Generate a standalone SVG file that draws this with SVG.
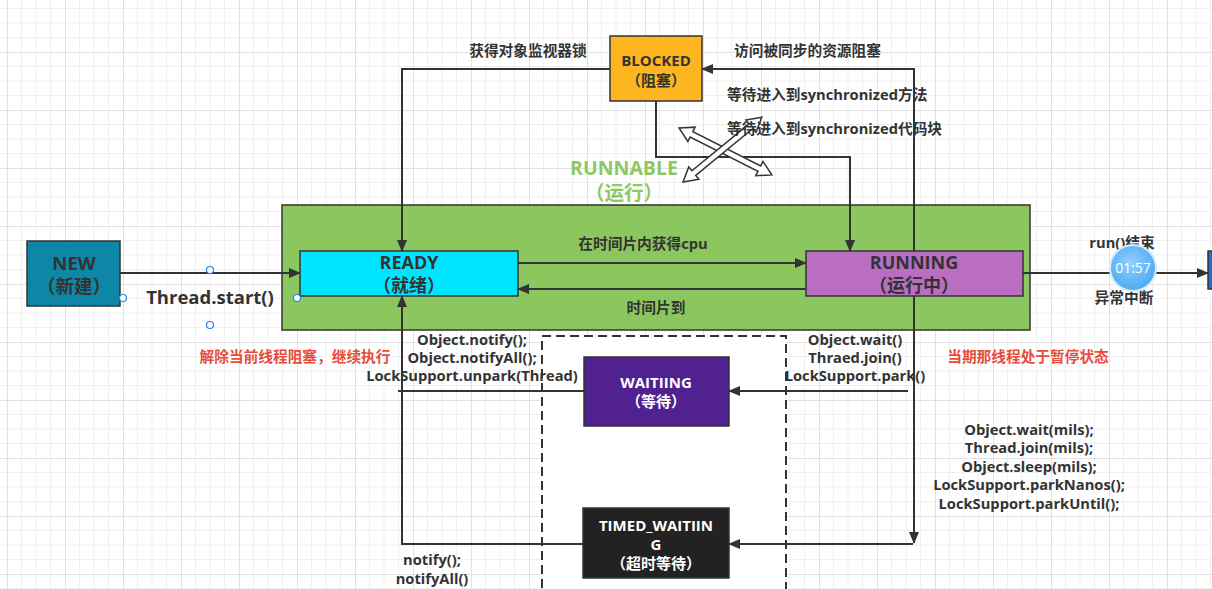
<svg xmlns="http://www.w3.org/2000/svg" width="1212" height="589" viewBox="0 0 1212 589">
<style>
text{font-family:"Open Sans","Noto Sans CJK SC",sans-serif;font-weight:bold;fill:#333;text-anchor:middle}
.t13{font-size:14.7px}
.n13{font-size:15px}
.t16{font-size:18.5px}
.nl{font-size:18px}
.w{fill:#fff}
.red{fill:#e74c3c;font-size:14.7px}
.edge{fill:none;stroke:#333;stroke-width:2}
.node{stroke:#333;stroke-width:1.5}
.h{fill:#fff;stroke:#2b7de9;stroke-width:1.2}
</style>
<defs>
<pattern id="grid" x="7" y="-6" width="58" height="58" patternUnits="userSpaceOnUse">
<path d="M14.5,0V58M29,0V58M43.5,0V58M0,14.5H58M0,29H58M0,43.5H58" stroke="#f0f0f0" stroke-width="1" fill="none"/>
<path d="M0.5,0V58M0,0.5H58" stroke="#e2e2e2" stroke-width="1" fill="none"/>
</pattern>
<marker id="arr" markerWidth="12" markerHeight="10" refX="11" refY="5" orient="auto" markerUnits="userSpaceOnUse">
<path d="M0,0L12,5L0,10z" fill="#333"/>
</marker>
<radialGradient id="clk" cx="0.45" cy="0.4" r="0.6">
<stop offset="0" stop-color="#8fd0ff"/>
<stop offset="1" stop-color="#4ea9f2"/>
</radialGradient>
</defs>
<rect width="1212" height="589" fill="#fff"/>
<rect width="1212" height="589" fill="url(#grid)"/>

<g id="runnable">
<rect x="282" y="205" width="748" height="125" fill="#8bc75e" class="node"/>
<text x="624" y="175" style="fill:#8dc862;font-size:19.5px">RUNNABLE</text>
<text x="624" y="200" style="fill:#8dc862;font-size:19.5px">（运行）</text>
</g>

<g id="waiting-area">
<rect x="542" y="336" width="244" height="260" fill="#fff" stroke="#333" stroke-width="2" stroke-dasharray="9 5"/>
</g>

<g id="connectors">
<path class="edge" d="M120,273H300" marker-end="url(#arr)"/>
<path class="edge" d="M518,263H806" marker-end="url(#arr)"/>
<path class="edge" d="M806,289H518" marker-end="url(#arr)"/>
<path class="edge" d="M610,69H402V251" marker-end="url(#arr)"/>
<path class="edge" d="M914,251V69H702" marker-end="url(#arr)"/>
<path class="edge" d="M656,101V157H850V251" marker-end="url(#arr)"/>
<path class="edge" d="M914,296V543" marker-end="url(#arr)"/>
<path class="edge" d="M913,544H729" marker-end="url(#arr)"/>
<path class="edge" d="M908,391H729" marker-end="url(#arr)"/>
<path class="edge" d="M584,391H398"/>
<path class="edge" d="M583,544H402V296" marker-end="url(#arr)"/>
<path class="edge" d="M1023,273H1208" marker-end="url(#arr)"/>
<path d="M0,0L14,-8L14,-3L90,-3L90,-8L104,0L90,8L90,3L14,3L14,8Z" fill="#fff" stroke="#333" stroke-width="1.5" transform="translate(679,128) rotate(26.8)"/>
<path d="M0,0L14,-8L14,-3L88,-3L88,-8L102,0L88,8L88,3L14,3L14,8Z" fill="#fff" stroke="#333" stroke-width="1.5" transform="translate(683,182) rotate(-39.4)"/>
</g>

<g id="labels">
<text class="t16" x="210" y="304">Thread.start()</text>
<text class="t13" x="528" y="56">获得对象监视器锁</text>
<text class="t13" x="734" y="56" style="text-anchor:start">访问被同步的资源阻塞</text>
<text class="t13" x="727" y="100" style="text-anchor:start">等待进入到synchronized方法</text>
<text class="t13" x="727" y="134" style="text-anchor:start">等待进入到synchronized代码块</text>
<text class="t13" x="643" y="249">在时间片内获得cpu</text>
<text class="t13" x="656" y="313">时间片到</text>
<text class="red" x="295" y="362">解除当前线程阻塞，继续执行</text>
<text class="red" x="1028" y="362">当期那线程处于暂停状态</text>
<text class="t13" x="472" y="345">Object.notify();</text>
<text class="t13" x="472" y="363">Object.notifyAll();</text>
<text class="t13" x="472" y="381">LockSupport.unpark(Thread)</text>
<text class="t13" x="855" y="345">Object.wait()</text>
<text class="t13" x="855" y="363">Thraed.join()</text>
<text class="t13" x="855" y="381">LockSupport.park()</text>
<text class="t13" x="1029" y="435">Object.wait(mils);</text>
<text class="t13" x="1029" y="453">Thread.join(mils);</text>
<text class="t13" x="1029" y="472">Object.sleep(mils);</text>
<text class="t13" x="1029" y="490">LockSupport.parkNanos();</text>
<text class="t13" x="1029" y="509">LockSupport.parkUntil();</text>
<text class="t13" x="432" y="565">notify();</text>
<text class="t13" x="432" y="584">notifyAll()</text>
<text class="t13" x="1122" y="248">run()结束</text>
<text class="t13" x="1124" y="303">异常中断</text>
</g>

<g id="new">
<rect x="27" y="241" width="93" height="65" fill="#0e86a6" class="node"/>
<text class="t16" x="74" y="270">NEW</text>
<text class="t16" x="74" y="293">（新建）</text>
</g>
<g id="ready">
<rect x="300" y="251" width="218" height="45" fill="#00e5ff" class="node"/>
<text class="nl" x="409" y="269">READY</text>
<text class="nl" x="409" y="292">（就绪）</text>
</g>
<g id="running">
<rect x="806" y="251" width="217" height="45" fill="#b96ec1" class="node"/>
<text class="nl" x="914" y="269">RUNNING</text>
<text class="nl" x="914" y="292">（运行中）</text>
</g>
<g id="blocked">
<rect x="610" y="36" width="92" height="65" fill="#fdb61f" class="node"/>
<text class="n13" x="656" y="66">BLOCKED</text>
<text class="n13" x="656" y="86">（阻塞）</text>
</g>
<g id="waitiing">
<rect x="584" y="357" width="145" height="69" fill="#51218f" class="node"/>
<text class="n13 w" x="656" y="388">WAITIING</text>
<text class="n13 w" x="656" y="407">（等待）</text>
</g>
<g id="timed-waitiing">
<rect x="583" y="508" width="146" height="70" fill="#222" class="node"/>
<text class="n13 w" x="656" y="531">TIMED_WAITIIN</text>
<text class="n13 w" x="656" y="550">G</text>
<text class="n13 w" x="656" y="569">（超时等待）</text>
</g>
<g id="terminated">
<rect x="1208" y="251" width="10" height="38" fill="#1a73c9" class="node"/>
</g>

<g id="handles">
<circle class="h" cx="210" cy="270" r="3.5"/>
<circle class="h" cx="123" cy="298" r="3.5"/>
<circle class="h" cx="297" cy="298" r="3.5"/>
<circle class="h" cx="210" cy="325" r="3.5"/>
</g>

<g id="timer">
<circle cx="1133" cy="268" r="23" fill="url(#clk)" stroke="#d6ecfb" stroke-width="2"/>
<text x="1133" y="273" style="fill:#fff;font-weight:normal;font-size:14px">01:57</text>
</g>
</svg>
